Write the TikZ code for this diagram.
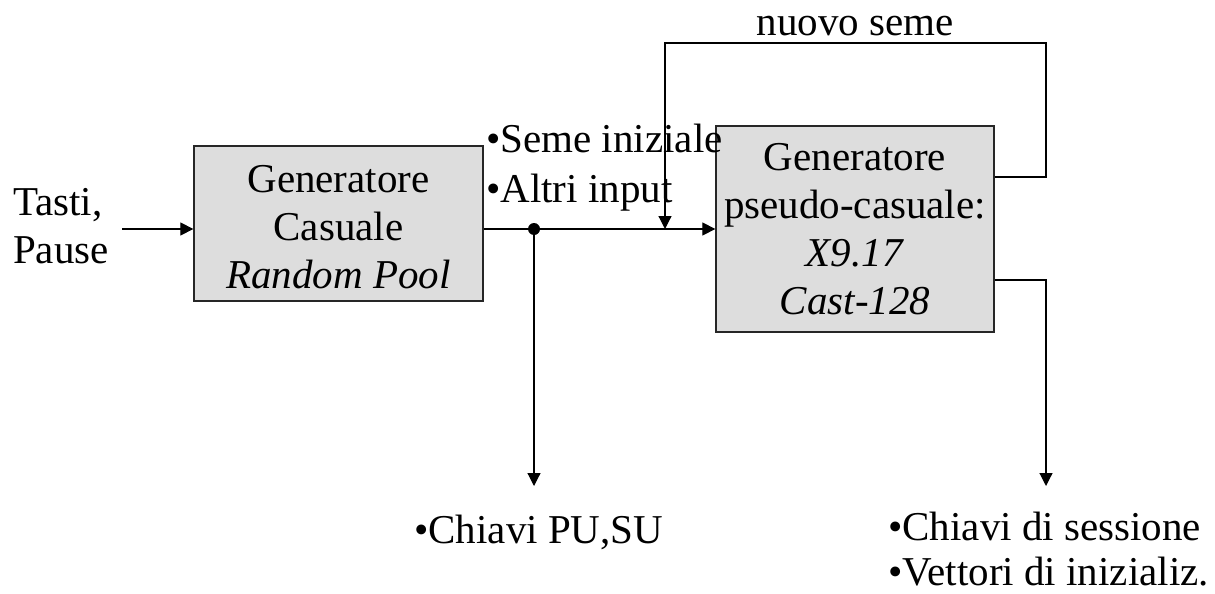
\documentclass[tikz,border=0pt]{standalone}
\usepackage{fontspec}
\setmainfont{Liberation Serif}
\usetikzlibrary{arrows.meta}
\definecolor{boxfill}{HTML}{DDDDDD}
\begin{document}
\begin{tikzpicture}[x=1pt,y=-1pt,
  txt/.style={font=\fontsize{41}{48}\selectfont, inner sep=0pt},
  genbox/.style={draw=black!85, line width=1.3pt, fill=boxfill, txt, align=center},
  wire/.style={line width=1.2pt},
  arr/.style={wire, -{Triangle[length=13pt,width=13pt]}},
]
\useasboundingbox (0,0) rectangle (1215,594);

% the two generators
\node[genbox, minimum width=289pt, minimum height=155pt] (rng) at (338.5,223.5)
  {\rule{0pt}{35pt}Generatore\\Casuale\\\textit{Random Pool}};
\node[genbox, minimum width=278pt, minimum height=206pt] (prng) at (855,229)
  {Generatore\\pseudo-casuale:\\\textit{X9.17}\\\textit{Cast-128}};

% entropy input (multi-line nodes sit on the baseline of their last line)
\node[txt, anchor=base west, align=left] (keys) at (13,263) {Tasti,\\Pause};
\coordinate (src) at (122,229);
\draw[arr] (src) -- (src -| rng.west);

% random pool to the pseudo-random generator, with a tap for the key pair
\draw[arr] (prng.west -| rng.east) -- (prng.west);
\coordinate (tap) at (534,229);
\fill (tap) circle (6pt);
\coordinate (pkout) at (534,486);
\draw[arr] (tap) -- (pkout);

% feedback of the new seed
\coordinate (fbR) at (1046,177);
\coordinate (fbTR) at (1046,43);
\coordinate (fbTL) at (665,43);
\coordinate (fbIn) at (665,229);
\draw[arr] (prng.east |- fbR) -- (fbR) -- (fbTR) -- (fbTL) -- (fbIn);

% session keys out
\coordinate (outR) at (1046,280);
\coordinate (skout) at (1046,486);
\draw[arr] (prng.east |- outR) -- (outR) -- (skout);

% labels
\node[txt, anchor=base] (newseed) at (855,36) {nuovo seme};
\node[txt, anchor=base west, align=left, font=\fontsize{41}{50}\selectfont] (seeds) at (486,202)
  {•Seme iniziale\\•Altri input};
\node[txt, anchor=base west] (pk) at (414,543) {•Chiavi PU,SU};
\node[txt, anchor=base west, align=left, font=\fontsize{41}{45}\selectfont] (sk) at (888,585)
  {•Chiavi di sessione\\•Vettori di inizializ.};
\end{tikzpicture}
\end{document}
